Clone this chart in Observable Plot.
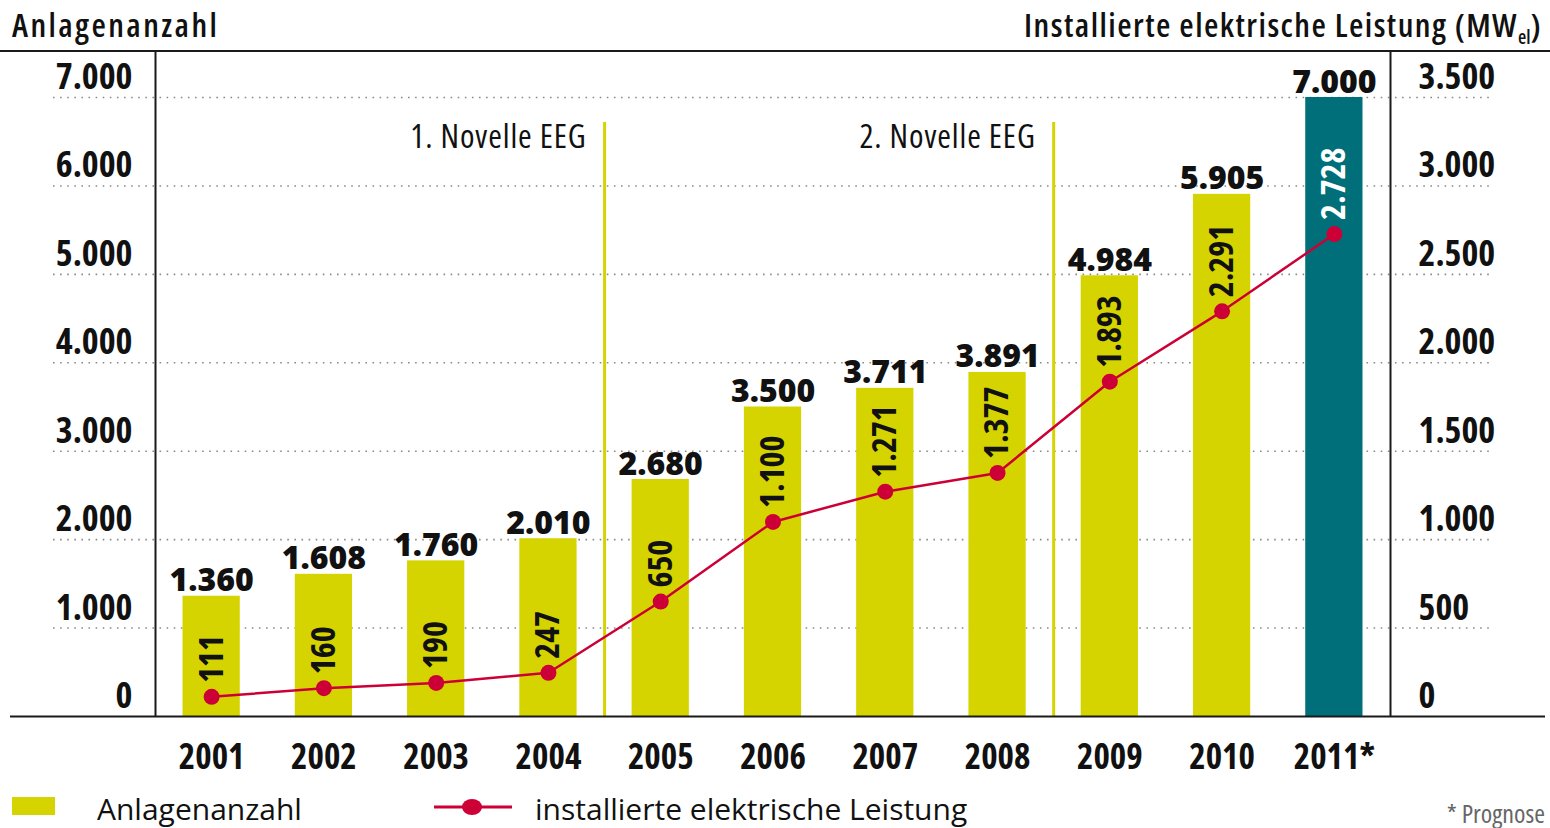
<!DOCTYPE html>
<html>
<head>
<meta charset="utf-8">
<script src="https://cdn.jsdelivr.net/npm/d3@7"></script>
<script src="https://cdn.jsdelivr.net/npm/@observablehq/plot@0.6"></script>
<style>
  html, body { margin: 0; padding: 0; background: #fff; }
  body { width: 1550px; height: 828px; overflow: hidden; font-family: "Open Sans", sans-serif; font-stretch: 75%; color: #111; }
  #header { position: relative; height: 50px; border-bottom: 2px solid #1a1a1a; }
  #header .l { position: absolute; left: 12px; top: 2px; font-size: 33px; font-weight: 600; letter-spacing: 2.4px; }
  #header .r { position: absolute; right: 8px; top: 2px; font-size: 33px; font-weight: 600; letter-spacing: 1.45px; }
  #header sub { font-size: 19px; vertical-align: -7px; line-height: 0; letter-spacing: 0; }
  #legend { position: relative; height: 43px; }
  #legend .sw { position: absolute; left: 12px; top: 12px; width: 43px; height: 18px; background: #d5d400; }
  #legend .t1 { position: absolute; left: 97px; top: 3px; font-size: 30px; font-weight: 500; font-stretch: 88%; }
  #legend svg { position: absolute; left: 432px; top: 9px; }
  #legend .t2 { position: absolute; left: 535px; top: 3px; font-size: 30px; font-weight: 500; font-stretch: 88%; }
  #legend .t3 { position: absolute; right: 5px; top: 10px; font-size: 26px; color: #666; }
  #chart svg text { font-stretch: 75%; }
  #chart svg .countlabel text { font-stretch: 100%; }
  #chart svg .novlabel text { letter-spacing: 0.9px; }
</style>
</head>
<body>
<div id="header"><span class="l">Anlagenanzahl</span><span class="r">Installierte elektrische Leistung (MW<sub>el</sub>)</span></div>
<div id="chart"></div>
<div id="legend">
  <div class="sw"></div><span class="t1">Anlagenanzahl</span>
  <svg width="82" height="26"><line x1="2" y1="13" x2="80" y2="13" stroke="#cc0036" stroke-width="3"/><ellipse cx="40" cy="13" rx="10" ry="8" fill="#cc0036"/></svg>
  <span class="t2">installierte elektrische Leistung</span>
  <span class="t3">* Prognose</span>
</div>
<script>
const years = [2001, 2002, 2003, 2004, 2005, 2006, 2007, 2008, 2009, 2010, 2011];
const yearLabels = ["2001", "2002", "2003", "2004", "2005", "2006", "2007", "2008", "2009", "2010", "2011*"];
const anlagen = [1360, 1608, 1760, 2010, 2680, 3500, 3711, 3891, 4984, 5905, 7000];
const leistung = [111, 160, 190, 247, 650, 1100, 1271, 1377, 1893, 2291, 2728];
const prognose = [false, false, false, false, false, false, false, false, false, false, true];
const leftTicks = [0, 1000, 2000, 3000, 4000, 5000, 6000, 7000];
const rightTicks = [0, 500, 1000, 1500, 2000, 2500, 3000, 3500];
const novelleAfter = [2004, 2008];
const novelleLabels = ["1. Novelle EEG", "2. Novelle EEG"];

const YELLOW = "#d5d400", TEAL = "#006f7a", RED = "#cc0036";
const ratio = 7000 / 3500; // left units per MW
const fmt = d3.formatLocale({decimal: ",", thousands: ".", grouping: [3], currency: ["", " €"]}).format(",d");

const data = years.map((y, i) => ({year: y, label: yearLabels[i], count: anlagen[i], mw: leistung[i], forecast: prognose[i]}));
const novelle = novelleAfter.map((a, i) => ({x: a + 0.5, label: novelleLabels[i]}));

const chart = Plot.plot({
  width: 1550,
  height: 733,
  marginLeft: 155,
  marginRight: 160,
  marginTop: 45,
  marginBottom: 69,
  style: {fontFamily: "Open Sans, sans-serif", color: "#111", background: "#fff", overflow: "visible"},
  x: {type: "linear", domain: [2000.5, 2011.5], axis: null},
  y: {domain: [0, 7000], axis: null},
  marks: [
    // dotted gridlines
    Plot.ruleY(leftTicks.slice(1), {stroke: "#8a8a8a", strokeWidth: 1.6, strokeDasharray: "1.6,5.5", insetLeft: -102, insetRight: -103}),
    // bars
    Plot.rectY(data, {x1: d => d.year - 0.255, x2: d => d.year + 0.255, y: "count", fill: d => d.forecast ? TEAL : YELLOW}),
    // Novelle lines
    Plot.ruleX(novelle, {x: "x", stroke: YELLOW, strokeWidth: 3, insetTop: 25}),
    Plot.text(novelle, {x: "x", text: "label", frameAnchor: "top", textAnchor: "end", lineAnchor: "middle", dx: -18, dy: 40, fontSize: 33, fill: "#111", className: "novlabel"}),
    // frame lines
    Plot.ruleX([2000.5, 2011.5], {stroke: "#1a1a1a", strokeWidth: 2, insetTop: -45}),
    Plot.ruleY([0], {stroke: "#1a1a1a", strokeWidth: 2, insetLeft: -145, insetRight: -155}),
    // line
    Plot.line(data, {x: "year", y: d => d.mw * ratio, stroke: RED, strokeWidth: 2.5}),
    Plot.dot(data, {x: "year", y: d => d.mw * ratio, r: 8, fill: RED}),
    // MW labels (rotated)
    Plot.text(data, {x: "year", y: d => d.mw * ratio, text: d => fmt(d.mw), rotate: -90, textAnchor: "start", lineAnchor: "middle", dy: -14, fontSize: 34, fontWeight: "bold", fill: d => d.forecast ? "#fff" : "#111"}),
    // count labels above bars
    Plot.text(data, {x: "year", y: "count", text: d => fmt(d.count), lineAnchor: "bottom", dy: -5, fontSize: 32, fontWeight: 800, fill: "#111", className: "countlabel"}),
    // left axis labels
    Plot.text(leftTicks, {y: d => d, text: d => fmt(d), frameAnchor: "left", textAnchor: "end", lineAnchor: "middle", dx: -23, dy: -20, fontSize: 36, fontWeight: "bold", fill: "#111"}),
    // right axis labels
    Plot.text(rightTicks, {y: d => d * ratio, text: d => fmt(d), frameAnchor: "right", textAnchor: "start", lineAnchor: "middle", dx: 28, dy: -20, fontSize: 36, fontWeight: "bold", fill: "#111"}),
    // x labels
    Plot.text(data, {x: "year", text: "label", frameAnchor: "bottom", lineAnchor: "middle", dy: 41, fontSize: 35, fontWeight: "bold", fill: "#111"})
  ]
});
document.getElementById("chart").appendChild(chart);
</script>
</body>
</html>
